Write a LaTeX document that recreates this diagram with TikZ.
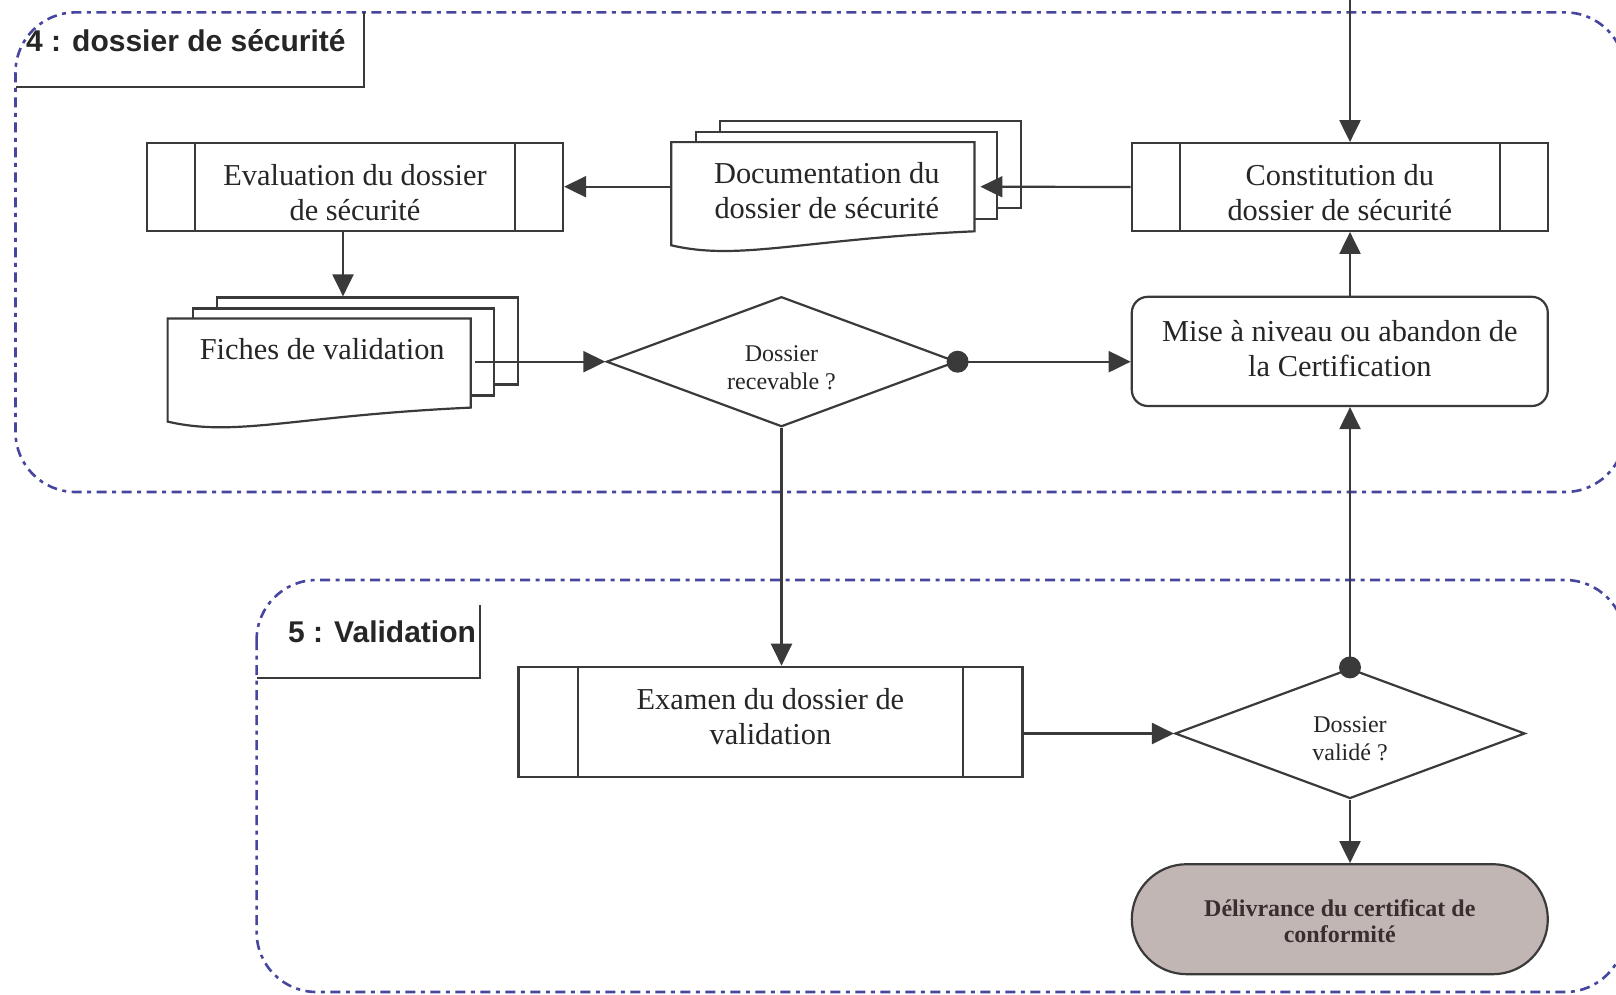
\documentclass[tikz,border=0pt]{standalone}
\usepackage{fontspec}
\setmainfont{Liberation Serif}
\newfontfamily\zonetitlefont{Liberation Sans}
\usetikzlibrary{arrows.meta,shapes.geometric,calc}

\definecolor{ink}{RGB}{58,58,58}
\definecolor{txt}{RGB}{38,38,38}
\definecolor{zonecol}{RGB}{70,70,158}
\definecolor{certfill}{RGB}{194,182,181}
\definecolor{certtxt}{RGB}{58,46,46}

\newcommand\mainsz{\fontsize{15.2pt}{17.5pt}\selectfont}
\newcommand\smallsz{\fontsize{12pt}{13.9pt}\selectfont}
\newcommand\zonesz{\zonetitlefont\bfseries\fontsize{15pt}{18pt}\selectfont}

% vertical bars of a predefined-process box
\newcommand\sidebars[2]{%
  \draw ([xshift=#2]#1.north west) -- ([xshift=#2]#1.south west)
        ([xshift=-#2]#1.north east) -- ([xshift=-#2]#1.south east);}
% outline of a document page with a wavy lower edge
\newcommand\docoutline[1]{%
  \draw[fill=white] (#1.north west) -- (#1.north east) -- (#1.south east)
    .. controls ($(#1.south east)+(-175,8)$) and ($(#1.south west)+(69,30)$)
    .. ($(#1.south west)+(0,14)$) -- cycle;}

\begin{document}
\begin{tikzpicture}[x=0.5pt,y=-0.5pt,line width=1.1pt,color=ink,
  >={Triangle[length=11pt,width=10.5pt]},
  every node/.style={text=txt},
  zone/.style={draw=zonecol,line width=1.3pt,
    dash pattern=on 5pt off 2.75pt on 2pt off 2.75pt,rounded corners=30pt},
  proc/.style={draw=ink,fill=white,minimum width=208pt,minimum height=43.8pt,inner sep=0pt},
  body/.style={font=\mainsz,align=center,inner sep=0pt},
  page/.style={draw=ink,fill=white,minimum width=150.5pt,minimum height=43.5pt,inner sep=0pt},
  frontpage/.style={minimum width=150.5pt,minimum height=43.5pt,inner sep=0pt},
  decision/.style={diamond,shape aspect=2.7,draw=ink,fill=white,minimum width=175pt,
    minimum height=65pt,inner sep=0pt},
  small/.style={font=\smallsz,align=center,inner sep=0pt},
  action/.style={draw=ink,fill=white,rounded corners=8pt,minimum width=208pt,
    minimum height=54.6pt,inner sep=0pt},
  terminal/.style={draw=ink,fill=certfill,rounded corners=27.5pt,minimum width=208pt,
    minimum height=55pt,inner sep=0pt},
  termtext/.style={align=center,inner sep=0pt,
    font=\bfseries\fontsize{12pt}{13.4pt}\selectfont,text=certtxt},
  zonetitle/.style={anchor=base west,font=\zonesz,text=txt,inner sep=0pt},
  dot/.style={fill=ink}]

\useasboundingbox (0,0) rectangle (1616,995);

% ---- dashed zones and their title tabs
\begin{scope}
  \clip (0,0) rectangle (1616,995);
  \draw[zone] (15.5,12.4) rectangle (1625,492);
  \draw[zone] (256.6,580) rectangle (1625,992);
\end{scope}
\draw (15.5,87) -| (364,12.4);
\node[zonetitle] (title4) at (25,52) {4 : dossier de sécurité};
\draw (256.6,678) -| (480,605);
\node[zonetitle] (title5) at (287,642) {5 : Validation};

% ---- process boxes
\node[proc] (eval) at (355,187) {};
\sidebars{eval}{24.5pt}
\node[body] (evalT) at ($(eval.center)+(0,6)$) {Evaluation du dossier\\de sécurité};
\node[proc] (const) at (1339.8,187) {};
\sidebars{const}{24.5pt}
\node[body] (constT) at ($(const.center)+(0,6)$) {Constitution du\\dossier de sécurité};
\node[proc,minimum width=252pt,minimum height=55.1pt] (examen) at (770.4,721.9) {};
\sidebars{examen}{30.4pt}
\node[body] (examenT) at ($(examen.center)+(0,-5)$) {Examen du dossier de\\validation};

% ---- document stacks
\coordinate (docC) at (822.8,186.7);
\node[page] (doc3) at ($(docC)+(48,-22)$) {};
\node[page] (doc2) at ($(docC)+(24,-11)$) {};
\node[frontpage] (docf) at (docC) {};
\docoutline{docf}
\node[body] (docT) at ($(docf.center)+(4,4)$) {Documentation du\\dossier de sécurité};

\coordinate (fichesC) at (319.2,363);
\node[page] (fiches3) at ($(fichesC)+(48,-22)$) {};
\node[page] (fiches2) at ($(fichesC)+(24,-11)$) {};
\node[frontpage] (fiches) at (fichesC) {};
\docoutline{fiches}
\node[body] (fichesT) at ($(fiches.center)+(3,-14)$) {Fiches de validation};

% ---- decisions, action and end
\node[decision] (dia1) at (781.5,361.7) {};
\node[small] (dia1T) at ($(dia1.center)+(0,6)$) {Dossier\\recevable ?};
\node[decision] (dia2) at (1350,733.5) {};
\node[small] (dia2T) at ($(dia2.center)+(0,5)$) {Dossier\\validé ?};
\node[action] (mise) at (1339.8,351.4) {};
\node[body] (miseT) at ($(mise.center)+(0,-3)$) {Mise à niveau ou abandon de\\la Certification};
\node[terminal] (deliv) at (1339.8,919.2) {};
\node[termtext] (delivT) at ($(deliv.center)+(0,2)$) {Délivrance du certificat de\\conformité};

% ---- connectors
\coordinate (feed) at (1350,-4);
\draw[->] (feed) -- (feed |- const.north);
\draw[->] (const.west) -- ($(docf.east)+(6,0)$);
\draw[->] (docf.west) -- (eval.east |- docf.west);
\coordinate (evalout) at ($(eval.south)+(-12,0)$);
\draw[->] (evalout) -- (evalout |- fiches3.north);
\coordinate (fichesout) at ($(fiches.east |- dia1.west)+(4,0)$);
\draw[->] (fichesout) -- (dia1.west);
\draw[->] (dia1.east) -- (dia1.east -| mise.west);
\fill[dot] (dia1.east) circle (5.5pt);
\draw[->] (mise.north -| dia2.north) -- (const.south -| dia2.north);
\draw[->] (dia1.south) -- (dia1.south |- examen.north);
\draw[->] (examen.east |- dia2.west) -- (dia2.west);
\draw[->] (dia2.north) -- (mise.south -| dia2.north);
\fill[dot] (dia2.north) circle (5.5pt);
\draw[->] (dia2.south) -- (deliv.north -| dia2.south);

\end{tikzpicture}
\end{document}
